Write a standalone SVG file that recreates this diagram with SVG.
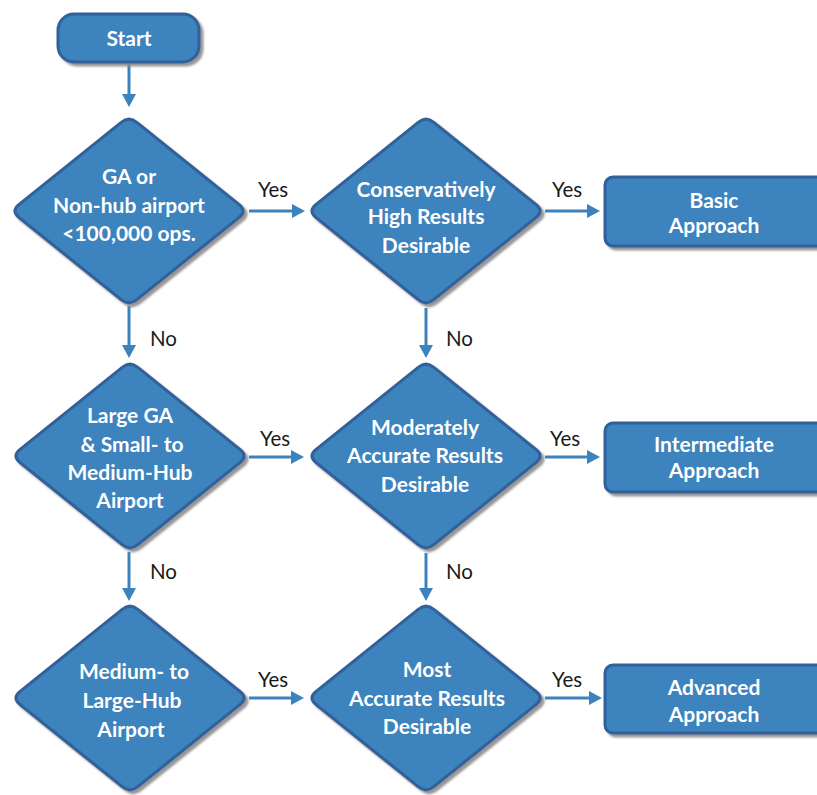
<svg xmlns="http://www.w3.org/2000/svg" width="817" height="795" viewBox="0 0 817 795">
<style>
.shape{fill:#3c83bd;stroke:#30609a;stroke-width:3;filter:url(#sh)}
.t{font-family:Lato,"Liberation Sans",sans-serif;font-weight:bold;font-size:21px;fill:#ffffff;text-anchor:middle}
.lbl{font-family:Lato,"Liberation Sans",sans-serif;font-size:20.5px;fill:#1a1a1a}
.c{stroke:#3c83bd;stroke-width:3;fill:none;marker-end:url(#ah)}
</style>
<defs>
<filter id="sh" x="-10%" y="-10%" width="125%" height="125%">
<feDropShadow dx="3" dy="3" stdDeviation="1" flood-color="#8a8a8a" flood-opacity="0.9"/>
</filter>
<marker id="ah" markerUnits="userSpaceOnUse" markerWidth="13" markerHeight="14" viewBox="0 0 13 14" refX="0" refY="7" orient="auto" overflow="visible">
<path d="M0,0 L13,7 L0,14 Z" fill="#3c83bd"/>
</marker>
<path id="dia" d="M7.8,-88.7 L110.2,-6.3 Q118,0 110.2,6.3 L7.8,88.7 Q0,95 -7.8,88.7 L-110.2,6.3 Q-118,0 -110.2,-6.3 L-7.8,-88.7 Q0,-95 7.8,-88.7 Z"/>
</defs>
<g id="connectors">
<line class="c" x1="129" y1="63" x2="129" y2="94"/>
<line class="c" x1="249" y1="211" x2="292" y2="211"/>
<line class="c" x1="545" y1="211" x2="587" y2="211"/>
<line class="c" x1="129" y1="306" x2="129" y2="345"/>
<line class="c" x1="426" y1="308" x2="426" y2="345"/>
<line class="c" x1="249" y1="457" x2="291" y2="457"/>
<line class="c" x1="545" y1="457" x2="587" y2="457"/>
<line class="c" x1="129" y1="552" x2="129" y2="588"/>
<line class="c" x1="426" y1="553" x2="426" y2="588"/>
<line class="c" x1="249" y1="698" x2="291" y2="698"/>
<line class="c" x1="545" y1="698" x2="589" y2="698"/>
<text class="lbl" x="258" y="197">Yes</text>
<text class="lbl" x="552" y="197">Yes</text>
<text class="lbl" x="150" y="346">No</text>
<text class="lbl" x="446" y="346">No</text>
<text class="lbl" x="260" y="446">Yes</text>
<text class="lbl" x="550" y="446">Yes</text>
<text class="lbl" x="150" y="579">No</text>
<text class="lbl" x="446" y="579">No</text>
<text class="lbl" x="258" y="687">Yes</text>
<text class="lbl" x="552" y="687">Yes</text>
</g>
<g id="start">
<rect class="shape" x="58" y="14" width="141" height="48" rx="16"/>
<text class="t" x="129" y="46" font-size="22">Start</text>
</g>
<g id="d1">
<use href="#dia" class="shape" transform="translate(129,211)"/>
<text class="t" x="129" y="184">GA or</text>
<text class="t" x="129" y="213">Non-hub airport</text>
<text class="t" x="129" y="241">&lt;100,000 ops.</text>
</g>
<g id="d2">
<use href="#dia" class="shape" transform="translate(426,211)"/>
<text class="t" x="426" y="197">Conservatively</text>
<text class="t" x="426" y="224">High Results</text>
<text class="t" x="426" y="253">Desirable</text>
</g>
<g id="basic">
<rect class="shape" x="605" y="177" width="222" height="69" rx="8"/>
<text class="t" x="714" y="208">Basic</text>
<text class="t" x="714" y="233">Approach</text>
</g>
<g id="d3">
<use href="#dia" class="shape" transform="translate(130,456)"/>
<text class="t" x="130" y="423">Large GA</text>
<text class="t" x="132" y="452">&amp; Small- to</text>
<text class="t" x="130" y="480">Medium-Hub</text>
<text class="t" x="130" y="508">Airport</text>
</g>
<g id="d4">
<use href="#dia" class="shape" transform="translate(426,456)"/>
<text class="t" x="425" y="435">Moderately</text>
<text class="t" x="425" y="463">Accurate Results</text>
<text class="t" x="425" y="492">Desirable</text>
</g>
<g id="intermediate">
<rect class="shape" x="605" y="423" width="222" height="69" rx="8"/>
<text class="t" x="714" y="452">Intermediate</text>
<text class="t" x="714" y="478">Approach</text>
</g>
<g id="d5">
<use href="#dia" class="shape" transform="translate(130,698)"/>
<text class="t" x="134" y="679">Medium- to</text>
<text class="t" x="132" y="708">Large-Hub</text>
<text class="t" x="131" y="737">Airport</text>
</g>
<g id="d6">
<use href="#dia" class="shape" transform="translate(426,698)"/>
<text class="t" x="427" y="677">Most</text>
<text class="t" x="427" y="706">Accurate Results</text>
<text class="t" x="427" y="734">Desirable</text>
</g>
<g id="advanced">
<rect class="shape" x="605" y="665" width="222" height="68" rx="8"/>
<text class="t" x="714" y="695">Advanced</text>
<text class="t" x="714" y="722">Approach</text>
</g>
</svg>
